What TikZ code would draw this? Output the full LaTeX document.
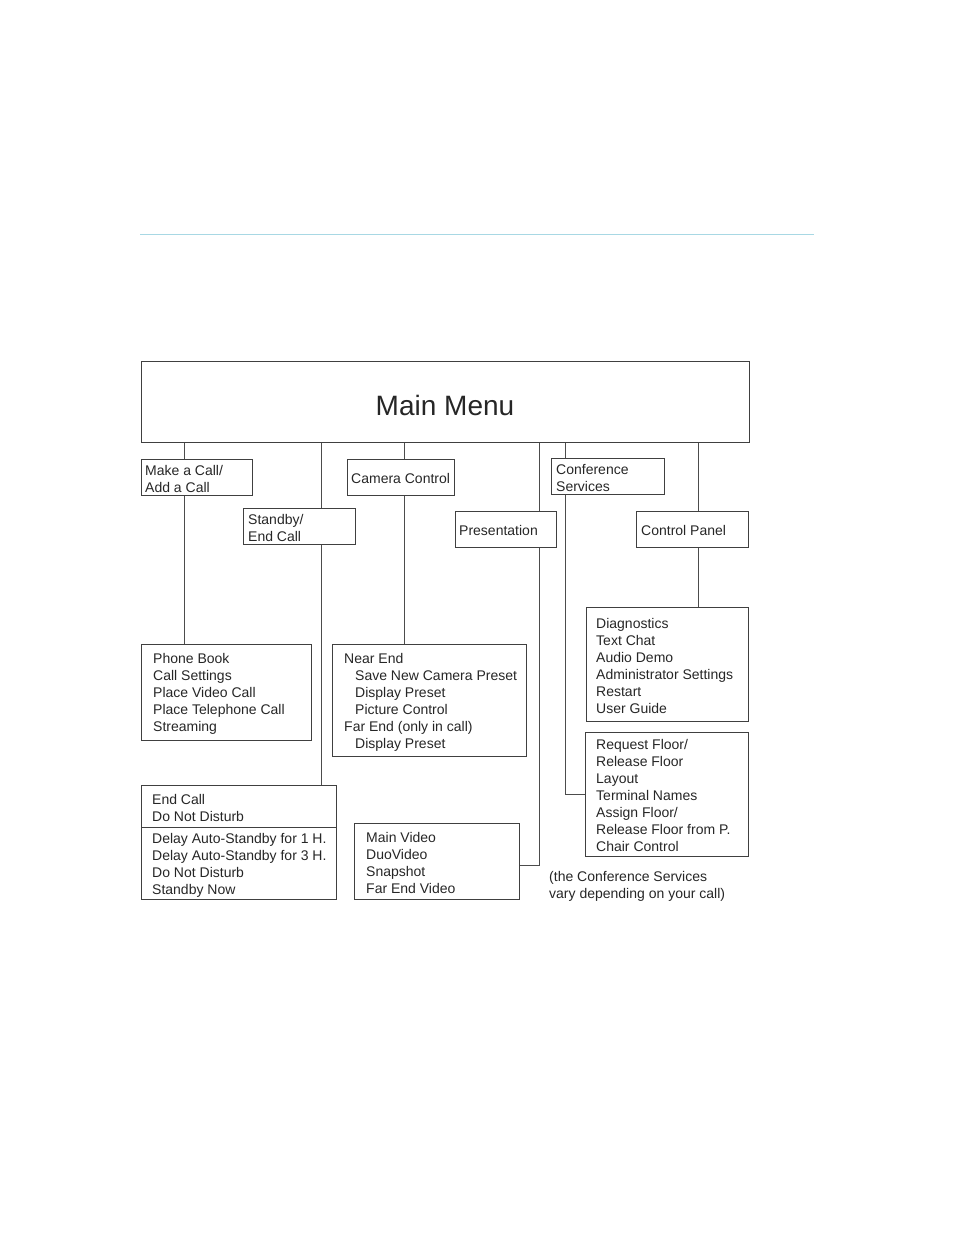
\documentclass[tikz,border=0pt]{standalone}
\usepackage{fontspec}
\setmainfont{Liberation Sans}
\definecolor{rulecol}{RGB}{168,216,228}
\begin{document}
\begin{tikzpicture}[x=1pt,y=-1pt,
  box/.style={draw=black!75, line width=0.9pt, anchor=north west, inner sep=0pt},
  txt/.style={anchor=west, align=left, inner sep=0pt, yshift=-1.5pt, text=black!85, font=\fontsize{14}{17}\selectfont},
  conn/.style={draw=black!70, line width=0.9pt}]
\useasboundingbox (0,0) rectangle (954,1235);
\draw[draw=rulecol, line width=1pt] (140,234) -- (814,234);

% main
\node[box, minimum width=608, minimum height=81] (main) at (141,361) {};
\node[text=black!85, inner sep=0pt, font=\fontsize{28}{34}\selectfont] (maintxt) at (445,405) {Main Menu};

% first level
\node[box, minimum width=111, minimum height=36] (makecall) at (141,459) {};
\node[txt] (makecalltxt) at ([xshift=4pt]makecall.west) {Make a Call/\\Add a Call};
\node[box, minimum width=112, minimum height=36] (standby) at (243,508) {};
\node[txt] (standbytxt) at ([xshift=5pt]standby.west) {Standby/\\End Call};
\node[box, minimum width=107, minimum height=36] (camera) at (347,459) {};
\node[txt] (cameratxt) at ([xshift=4pt]camera.west) {Camera Control};
\node[box, minimum width=101, minimum height=36] (present) at (455,511) {};
\node[txt] (presenttxt) at ([xshift=4pt]present.west) {Presentation};
\node[box, minimum width=113, minimum height=36] (conf) at (551,458) {};
\node[txt] (conftxt) at ([xshift=5pt]conf.west) {Conference\\Services};
\node[box, minimum width=112, minimum height=36] (control) at (636,511) {};
\node[txt] (controltxt) at ([xshift=5pt]control.west) {Control Panel};

% second level
\node[box, minimum width=170, minimum height=96] (phone) at (141,644) {};
\node[txt] (phonetxt) at ([xshift=12pt]phone.west) {Phone Book\\Call Settings\\Place Video Call\\Place Telephone Call\\Streaming};
\node[box, minimum width=194, minimum height=112] (nearend) at (332,644) {};
\node[txt] (nearendtxt) at ([xshift=12pt]nearend.west) {Near End\\\hspace*{11pt}Save New Camera Preset\\\hspace*{11pt}Display Preset\\\hspace*{11pt}Picture Control\\Far End (only in call)\\\hspace*{11pt}Display Preset};
\node[box, minimum width=195, minimum height=42] (endcall) at (141,785) {};
\node[txt] (endcalltxt) at ([xshift=11pt]endcall.west) {End Call\\Do Not Disturb};
\node[box, minimum width=195, minimum height=72] (standbyopts) at (141,827) {};
\node[txt] (standbyoptstxt) at ([xshift=11pt]standbyopts.west) {Delay Auto-Standby for 1 H.\\Delay Auto-Standby for 3 H.\\Do Not Disturb\\Standby Now};
\node[box, minimum width=165, minimum height=76] (mainvideo) at (354,823) {};
\node[txt] (mainvideotxt) at ([xshift=12pt]mainvideo.west) {Main Video\\DuoVideo\\Snapshot\\Far End Video};
\node[box, minimum width=162, minimum height=114] (diag) at (586,607) {};
\node[txt] (diagtxt) at ([xshift=10pt]diag.west) {Diagnostics\\Text Chat\\Audio Demo\\Administrator Settings\\Restart\\User Guide};
\node[box, minimum width=163, minimum height=124] (request) at (585,732) {};
\node[txt] (requesttxt) at ([xshift=11pt]request.west) {Request Floor/\\Release Floor\\Layout\\Terminal Names\\Assign Floor/\\Release Floor from P.\\Chair Control};
\node[txt] (note) at (549,885) {(the Conference Services\\vary depending on your call)};

% trunks
\coordinate (xA) at (184,0);
\coordinate (xB) at (321,0);
\coordinate (xC) at (404,0);
\coordinate (xD) at (539,0);
\coordinate (xE) at (565,0);
\coordinate (xF) at (698,0);

\draw[conn] (main.south -| xA) -- (makecall.north -| xA);
\draw[conn] (makecall.south -| xA) -- (phone.north -| xA);
\draw[conn] (main.south -| xB) -- (standby.north -| xB);
\draw[conn] (standby.south -| xB) -- (endcall.north -| xB);
\draw[conn] (main.south -| xC) -- (camera.north -| xC);
\draw[conn] (camera.south -| xC) -- (nearend.north -| xC);
\draw[conn] (main.south -| xD) -- (present.north -| xD);
\draw[conn] (present.south -| xD) |- ([yshift=-4pt]mainvideo.east);
\draw[conn] (main.south -| xE) -- (conf.north -| xE);
\draw[conn] (conf.south -| xE) |- (request.west);
\draw[conn] (main.south -| xF) -- (control.north -| xF);
\draw[conn] (control.south -| xF) -- (diag.north -| xF);
\end{tikzpicture}
\end{document}
